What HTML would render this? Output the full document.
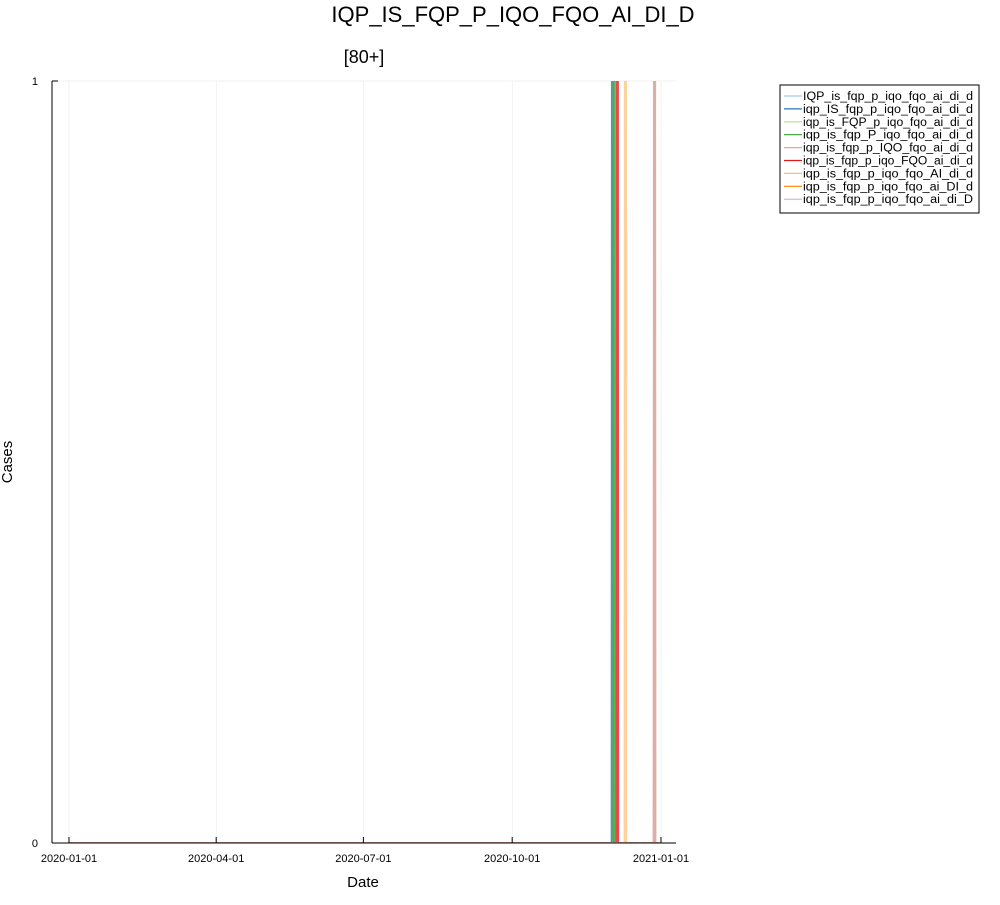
<!DOCTYPE html>
<html><head><meta charset="utf-8"><style>
body{margin:0;background:#fff;font-family:"Liberation Sans",sans-serif}
</style></head><body>
<svg id="c" width="1000" height="900" xmlns="http://www.w3.org/2000/svg">
<text x="513" y="22" font-size="22" text-anchor="middle" fill="#000">IQP_IS_FQP_P_IQO_FQO_AI_DI_D</text>
<text x="364" y="63" font-size="18" text-anchor="middle" fill="#000">[80+]</text>
<text x="363" y="887" font-size="15" text-anchor="middle">Date</text>
<text transform="translate(12,462) rotate(-90)" font-size="15" text-anchor="middle">Cases</text>
<defs><clipPath id="pc"><rect x="52" y="81" width="624" height="762"/></clipPath></defs>
<g id="grid"></g>
<g id="series" clip-path="url(#pc)"></g>
<line x1="52" y1="81" x2="52" y2="843" stroke="#000"/>
<line x1="52" y1="843" x2="676" y2="843" stroke="#000"/>
<g id="ticks"></g>
<g>
<rect x="780" y="85" width="199" height="128" fill="#fff" stroke="#000" stroke-width="1"/>
<g id="leg"></g>
</g>
</svg>
<script>
const xTickLabels=["2020-01-01","2020-04-01","2020-07-01","2020-10-01","2021-01-01"];
const xTickDays=[0,91,182,274,366];
const yTickValues=[0,1];
const seriesNames=["IQP_is_fqp_p_iqo_fqo_ai_di_d","iqp_IS_fqp_p_iqo_fqo_ai_di_d","iqp_is_FQP_p_iqo_fqo_ai_di_d","iqp_is_fqp_P_iqo_fqo_ai_di_d","iqp_is_fqp_p_IQO_fqo_ai_di_d","iqp_is_fqp_p_iqo_FQO_ai_di_d","iqp_is_fqp_p_iqo_fqo_AI_di_d","iqp_is_fqp_p_iqo_fqo_ai_DI_d","iqp_is_fqp_p_iqo_fqo_ai_di_D"];
const spikeDays=[336,336,337,337,339,339,344,362,362];
const spikeValues=[3,3,3,3,3,3,3,3,3];
const lastDay=365;
const colors=["#a6cee3","#1f78b4","#b2df8a","#33a02c","#fb9a99","#e31a1c","#fdbf6f","#ff7f00","#cab2d6"];
const NS="http://www.w3.org/2000/svg";
const X=d=>69+d*(592/366);
const Y=v=>843-v*762;
function mk(t,a,p){const e=document.createElementNS(NS,t);for(const k in a)e.setAttribute(k,a[k]);p.appendChild(e);return e;}
const grid=document.getElementById('grid'),ticks=document.getElementById('ticks');
xTickDays.forEach((d,i)=>{
 const g=mk('line',{x1:X(d),x2:X(d),y1:81,y2:843,stroke:'#000','stroke-opacity':0.1,'stroke-width':0.5},grid);
 
 
 const t=mk('line',{x1:X(d),x2:X(d),y1:843,y2:837,stroke:'#000'},ticks);
 
 
 const l=mk('text',{x:X(d),y:862,'font-size':11,'text-anchor':'middle'},ticks);l.textContent=xTickLabels[i];
 
 
});
yTickValues.forEach(v=>{
 const g=mk('line',{x1:52,x2:676,y1:Y(v),y2:Y(v),stroke:'#000','stroke-opacity':0.1,'stroke-width':0.5},grid);
 
 
 const t=mk('line',{x1:52,x2:58,y1:Y(v),y2:Y(v),stroke:'#000'},ticks);
 
 
 const l=mk('text',{x:38,y:Y(v)+4,'font-size':11,'text-anchor':'end'},ticks);l.textContent=v;
 
 
});
const sg=document.getElementById('series'),leg=document.getElementById('leg');
seriesNames.forEach((n,i)=>{
 const d=spikeDays[i],v=spikeValues[i];
 const pts=[[0,0],[d-0.5,0],[d,v],[d+0.5,0],[lastDay,0]].map(p=>X(p[0])+','+Y(p[1])).join(' ');
 const p=mk('polyline',{points:pts,fill:'none',stroke:colors[i],'stroke-width':2,'stroke-opacity':0.7},sg);
 
 
 const y=96+i*12.9;
 const ll=mk('line',{x1:784,x2:802,y1:y,y2:y,stroke:colors[i],'stroke-width':1.2},leg);
 
 
 const t=mk('text',{x:803,y:y+4,'font-size':11.5,textLength:170,lengthAdjust:'spacingAndGlyphs'},leg);t.textContent=n;
 
 
});
</script>
</body></html>
